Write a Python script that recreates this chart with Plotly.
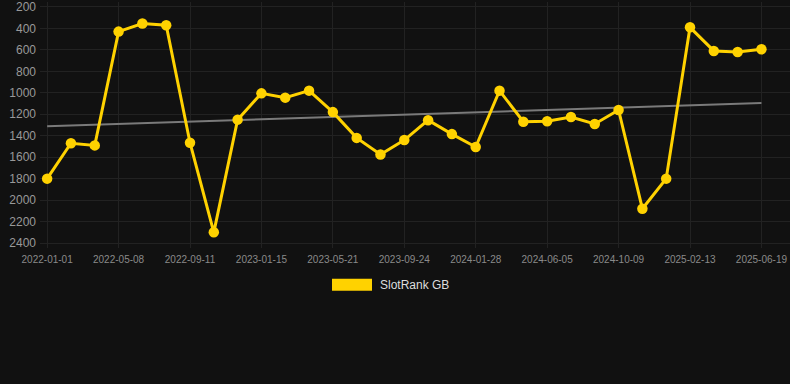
import plotly.graph_objects as go

dates = ["2022-01-01", "2022-02-12", "2022-03-26", "2022-05-08", "2022-06-19", "2022-07-31",
         "2022-09-11", "2022-10-23", "2022-12-04", "2023-01-15", "2023-02-26", "2023-04-09",
         "2023-05-21", "2023-07-02", "2023-08-13", "2023-09-24", "2023-11-05", "2023-12-17",
         "2024-01-28", "2024-03-10", "2024-04-21", "2024-06-05", "2024-07-17", "2024-08-28",
         "2024-10-09", "2024-11-20", "2025-01-01", "2025-02-13", "2025-03-27", "2025-05-08",
         "2025-06-19"]
rank = [1800, 1470, 1490, 430, 355, 370, 1465, 2300, 1250, 1005, 1045, 980, 1180, 1420, 1575,
        1440, 1255, 1385, 1505, 980, 1270, 1265, 1225, 1290, 1160, 2080, 1800, 390, 610, 620, 595]
trend_x = [dates[0], dates[-1]]
trend_y = [1312, 1096]
tick_labels = dates[::3]
y_ticks = [200, 400, 600, 800, 1000, 1200, 1400, 1600, 1800, 2000, 2200, 2400]
series_name = "SlotRank GB"

gold = "#FFD200"
PH = 248  # plot height in px
fig = go.Figure()
fig.add_trace(go.Scatter(x=trend_x, y=trend_y, mode="lines",
                         line=dict(color="#7a7a7a", width=2), showlegend=False, hoverinfo="skip"))
fig.add_trace(go.Scatter(x=dates, y=rank, mode="lines+markers", name=series_name,
                         line=dict(color=gold, width=3), marker=dict(color=gold, size=10.5),
                         showlegend=False))

fig.update_layout(
    width=790, height=384,
    paper_bgcolor="#111111", plot_bgcolor="#111111",
    margin=dict(l=40, r=0, t=0, b=384 - PH),
    font=dict(family="Liberation Sans, Arial, sans-serif", color="#999999"),
    xaxis=dict(type="category", categoryorder="array", categoryarray=dates,
               range=[-0.3, 31.2], tickmode="array", tickvals=tick_labels, ticktext=tick_labels,
               showgrid=True, gridcolor="#222222", gridwidth=1, zeroline=False,
               showline=False, tickfont=dict(size=10, color="#8a8a8a"), ticks="", ticklabelstandoff=4,
               ticklabeloverflow="allow"),
    yaxis=dict(range=[2446, 154], tickmode="array", tickvals=y_ticks,
               showgrid=True, gridcolor="#222222", gridwidth=1, zeroline=False,
               showline=False, tickfont=dict(size=12, color="#999999"), ticks="", ticklabelstandoff=3,
               ticklabeloverflow="allow"),
    shapes=[dict(type="rect", xref="paper", yref="paper",
                 x0=(332 - 40) / 750, x1=(372 - 40) / 750,
                 y0=(PH - 291) / PH, y1=(PH - 279) / PH,
                 fillcolor=gold, line=dict(width=0))],
    annotations=[dict(text=series_name, xref="paper", yref="paper",
                      x=(378 - 40) / 750, y=(PH - 285) / PH, xanchor="left", yanchor="middle",
                      showarrow=False, font=dict(size=12, color="#dddddd"))],
)

fig.write_html("out.html", config={"displayModeBar": False},
               post_script="document.body.style.margin='0';document.body.style.background='#111111';")
